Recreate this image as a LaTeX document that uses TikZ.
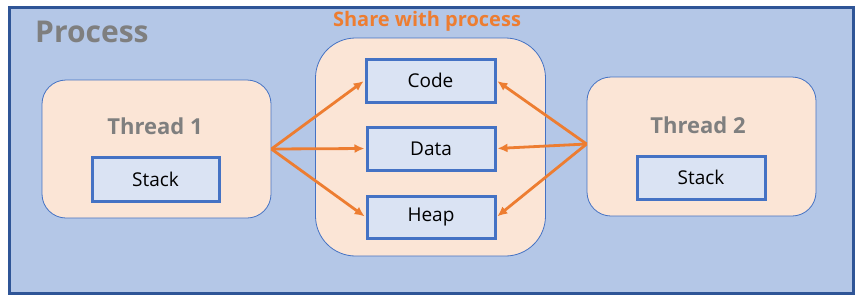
\documentclass[tikz,border=0pt]{standalone}
\usepackage{fontspec}
\setmainfont{Open Sans}
\usetikzlibrary{arrows.meta}
\definecolor{procfill}{HTML}{B4C7E7}
\definecolor{procline}{HTML}{2F5597}
\definecolor{thrfill}{HTML}{FBE5D6}
\definecolor{boxline}{HTML}{4472C4}
\definecolor{boxfill}{HTML}{DAE3F3}
\definecolor{orng}{HTML}{ED7D31}
\definecolor{grayt}{HTML}{7F7F7F}
\tikzset{
  container/.style={draw=boxline, line width=0.8pt, fill=thrfill, rounded corners=24pt},
  membox/.style={draw=boxline, line width=3pt, fill=boxfill, inner sep=0pt, font=\fontsize{19}{21}\selectfont},
  share/.style={draw=orng, line width=2.8pt, -{Latex[length=10pt,width=9pt]}, shorten >=1pt},
  graytitle/.style={text=grayt, font=\bfseries\fontsize{22}{25}\selectfont, inner sep=0pt},
}
\begin{document}
\begin{tikzpicture}[x=1pt,y=-1pt]
\useasboundingbox (0,0) rectangle (864,301);
% process
\node[draw=procline, line width=3pt, fill=procfill, minimum width=844pt, minimum height=286pt, inner sep=0pt] (proc) at (431,150) {};
\node[anchor=west, text=grayt, font=\bfseries\fontsize{30}{33}\selectfont, inner sep=0pt] (ptitle) at (35,32) {Process};
% thread 1
\node[container, minimum width=229pt, minimum height=138pt] (t1) at (156.5,149) {};
\node[graytitle] (t1l) at (155,126) {Thread 1};
\node[membox, minimum width=127pt, minimum height=44pt] (s1) at (155.5,179) {Stack};
% shared
\node[container, rounded corners=40pt, minimum width=230pt, minimum height=218pt] (sh) at (430.5,147) {};
\node[text=orng, font=\bfseries\fontsize{20}{23}\selectfont, inner sep=0pt] (shl) at (427,21) {Share with process};
\node[membox, minimum width=129pt, minimum height=43pt] (code) at (430.5,80.5) {Code};
\node[membox, minimum width=128pt, minimum height=43pt] (data) at (431,148.5) {Data};
\node[membox, minimum width=128pt, minimum height=42pt] (heap) at (431,217) {Heap};
% thread 2
\node[container, minimum width=229pt, minimum height=139pt] (t2) at (701.5,146.5) {};
\node[graytitle] (t2l) at (698,125) {Thread 2};
\node[membox, minimum width=128pt, minimum height=43pt] (s2) at (701,177.5) {Stack};
% arrows
\coordinate (a1) at (t1.east);
\coordinate (a2) at ([yshift=2.5pt]t2.west);
\draw[share] (a1) -- (code.west);
\draw[share] (a1) -- (data.west);
\draw[share] (a1) -- (heap.west);
\draw[share] (a2) -- (code.east);
\draw[share] (a2) -- (data.east);
\draw[share] (a2) -- (heap.east);
\end{tikzpicture}
\end{document}
